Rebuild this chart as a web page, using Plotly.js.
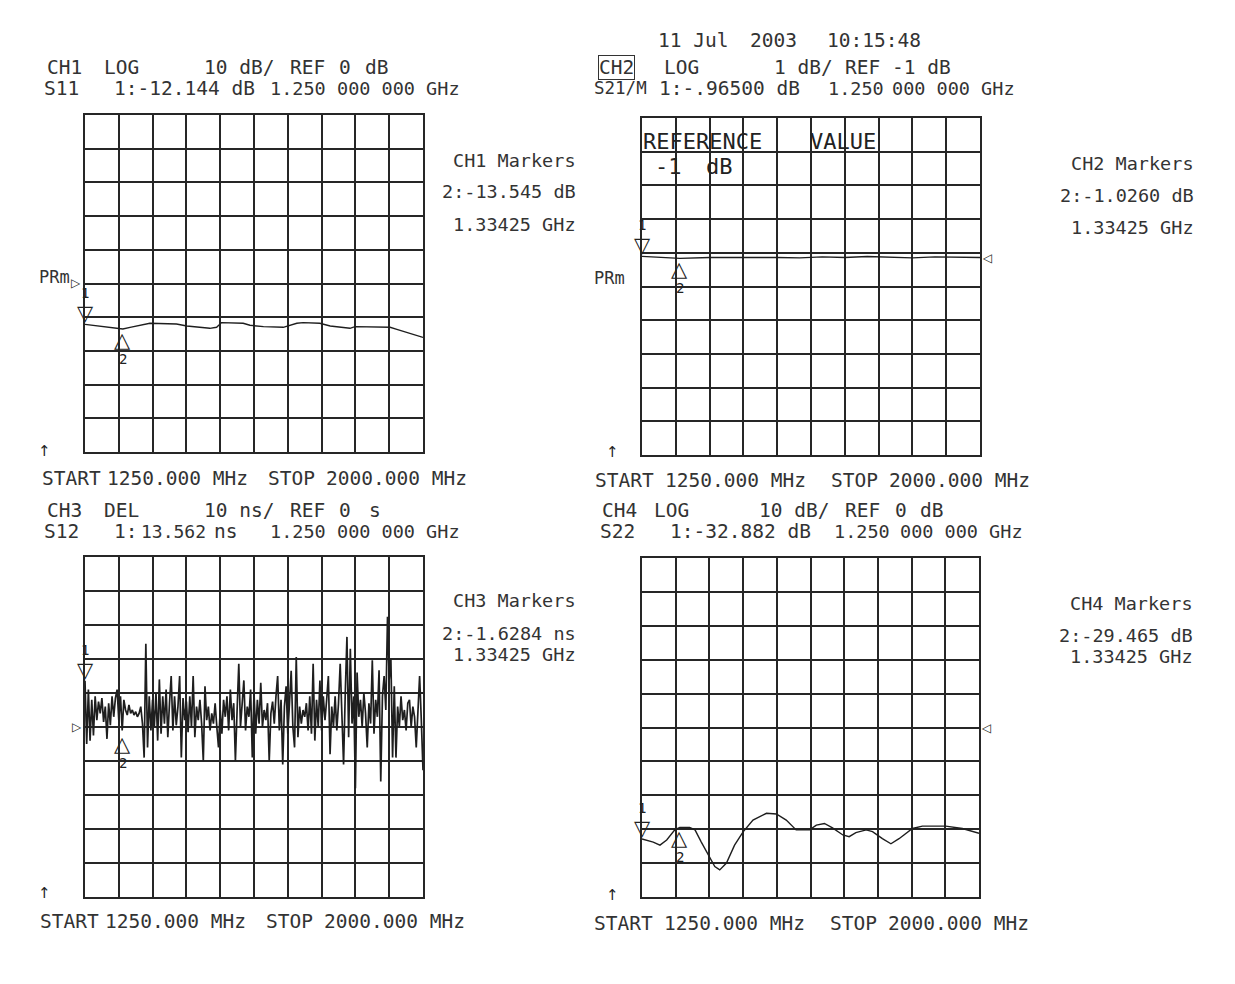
<!DOCTYPE html>
<html><head><meta charset="utf-8">
<script src="https://cdn.plot.ly/plotly-3.0.1.min.js"></script>
<style>html,body{margin:0;padding:0;background:#fff;}#chart{width:1235px;height:984px;}</style>
</head><body><div id="chart"></div>
<script>
// ---------------- data ----------------
const START_MHZ = 1250, STOP_MHZ = 2000;

const ch1Freq = [1250,1305,1334,1350,1372,1394,1453,1476,1527,1542,1553,1601,1616,1646,1690,1720,1734,1771,1794,1838,1849,1927,1942,2000];
const ch1S11  = [-12.14,-13.0,-13.5,-13.0,-12.4,-11.8,-12.0,-12.6,-13.3,-13.0,-11.6,-11.8,-12.4,-12.8,-13.0,-11.8,-11.6,-11.8,-12.6,-13.3,-12.8,-13.0,-13.6,-16.0];

const ch2Freq = [1250,1290,1334,1400,1450,1500,1550,1600,1650,1700,1750,1800,1850,1900,1950,2000];
const ch2S21  = [-0.965,-0.99,-1.026,-1.0,-0.99,-1.0,-1.0,-1.01,-0.98,-1.0,-0.97,-1.0,-1.01,-0.98,-0.99,-1.0];

const ch3Delay = [
 13.6,-5.0,11.0,-4.0,8.0,-2.5,9.0,2.0,7.5,4.0,
 8.5,1.5,6.0,-3.5,7.0,0.5,9.0,3.0,8.5,11.0,
 2.0,9.0,-1.0,8.0,5.0,3.5,6.5,4.0,5.0,3.5,
 4.5,3.0,4.0,6.0,1.0,-9.0,24.5,-6.0,9.0,-1.0,
 8.0,0.0,10.0,-4.0,14.0,-2.0,9.0,1.0,11.0,-3.0,
 7.0,15.0,-1.0,9.0,0.5,6.0,15.0,-9.0,8.5,2.0,
 7.5,-1.5,9.0,0.0,15.0,-3.0,6.0,2.0,8.0,1.0,
 -10.0,12.0,2.0,6.0,-1.0,4.0,1.0,7.0,0.0,-6.0,
 5.0,-2.0,8.0,3.0,9.0,-1.0,11.0,2.0,7.0,-10.0,
 5.0,18.6,0.0,7.0,13.7,-1.0,6.0,3.0,11.0,-9.0,
 10.0,-2.0,8.0,1.0,13.0,0.0,5.0,2.0,7.0,-10.0,
 4.0,7.5,1.0,9.0,15.0,-1.0,8.0,-11.0,6.0,12.0,
 -2.0,7.0,16.5,0.0,-6.0,20.6,-3.0,6.0,1.0,5.0,
 3.0,7.0,-1.0,9.0,-2.0,18.6,-4.0,8.0,0.0,13.7,
 -1.0,9.0,2.0,8.0,15.0,-8.0,6.0,0.0,9.0,-1.0,
 7.0,18.6,2.0,-11.0,10.0,26.5,-3.0,23.0,1.0,9.0,
 -18.0,16.0,3.0,8.0,0.0,10.0,4.0,-6.0,7.0,1.0,
 19.6,-2.0,8.0,3.0,16.7,-16.0,9.0,15.0,5.0,32.4,
 14.0,20.0,-9.0,12.0,-9.0,6.0,0.0,9.0,2.0,5.0,
 -1.0,7.0,8.0,0.0,6.0,3.0,-6.0,5.0,15.0,2.0,
 -12.7];

const ch4Freq = [1250,1257,1275,1290,1305,1323,1334,1356,1368,1382,1397,1412,1423,1438,1456,1475,1497,1527,1549,1571,1593,1623,1638,1656,1674,1697,1711,1726,1749,1763,1785,1804,1822,1841,1852,1874,1926,1963,1993,2000];
const ch4S22  = [-32.9,-33.2,-33.8,-34.7,-33.2,-30.2,-29.5,-29.5,-30.2,-33.8,-37.6,-41.0,-42.0,-40.0,-34.7,-30.8,-27.3,-25.3,-25.5,-27.3,-30.2,-30.2,-28.8,-28.3,-29.6,-31.7,-32.2,-31.0,-30.2,-30.7,-32.8,-34.3,-32.8,-30.8,-29.8,-29.1,-29.1,-29.8,-31.0,-31.2];

const markerFreq = [1250, 1334.25];
const ch1Markers = [-12.144, -13.545];
const ch2Markers = [-0.965, -1.026];
const ch3Markers = [13.562, -1.6284];
const ch4Markers = [-32.882, -29.465];
const refValues  = [0, -1, 0, 0];

// ---------------- layout helpers ----------------
const W = 1235, H = 984;
const FONT = 'DejaVu Sans Mono';
const TXT = '#333';
const INK = '#262626';
const ch3Freq = ch3Delay.map((_, i) => START_MHZ + i * (STOP_MHZ - START_MHZ) / (ch3Delay.length - 1));

const panels = [
  {box:[85,115,423,452],  range:[-50,50],     tick0:0,    dtick:10, fx:ch1Freq, fy:ch1S11,  mk:ch1Markers},
  {box:[642,118,980,455], range:[-6.86,3.14], tick0:0.14, dtick:1,  fx:ch2Freq, fy:ch2S21,  mk:ch2Markers},
  {box:[85,557,423,897],  range:[-50,50],     tick0:0,    dtick:10, fx:ch3Freq, fy:ch3Delay,mk:ch3Markers},
  {box:[642,558,979,897], range:[-50,50],     tick0:0,    dtick:10, fx:ch4Freq, fy:ch4S22,  mk:ch4Markers}
];

const layout = {
  width: W, height: H, margin:{l:0,r:0,t:0,b:0},
  paper_bgcolor:'#fff', plot_bgcolor:'#fff', showlegend:false,
  annotations: [], shapes: []
};
const data = [];

panels.forEach((p, k) => {
  const n = k === 0 ? '' : String(k + 1);
  const [x0, y0, x1, y1] = p.box;
  layout['xaxis' + n] = {
    domain:[x0 / W, x1 / W], range:[START_MHZ, STOP_MHZ], tick0:START_MHZ, dtick:75,
    showgrid:true, gridcolor:INK, gridwidth:2, zeroline:false, showticklabels:false, ticks:'',
    showline:true, mirror:true, linecolor:INK, linewidth:2, anchor:'y' + n, fixedrange:true
  };
  layout['yaxis' + n] = {
    domain:[1 - y1 / H, 1 - y0 / H], range:p.range, tick0:p.tick0, dtick:p.dtick,
    showgrid:true, gridcolor:INK, gridwidth:2, zeroline:false, showticklabels:false, ticks:'',
    showline:true, mirror:true, linecolor:INK, linewidth:2, anchor:'x' + n, fixedrange:true
  };
  data.push({
    type:'scatter', mode:'lines', x:p.fx, y:p.fy, xaxis:'x' + n, yaxis:'y' + n,
    line:{color:'#1e1e1e', width:k === 2 ? 1.7 : 1.4}, hoverinfo:'skip'
  });
  // marker 1 (down triangle above trace) and marker 2 (up triangle below trace)
  const ax = {xref:'x' + n, yref:'y' + n, showarrow:false};
  layout.annotations.push(Object.assign({}, ax, {x:markerFreq[0], y:p.mk[0], text:'▽', yanchor:'bottom', xanchor:'center', yshift:-3, font:{family:'DejaVu Sans', size:21, color:'#222'}}));
  layout.annotations.push(Object.assign({}, ax, {x:markerFreq[0], y:p.mk[0], text:'1', yanchor:'bottom', xanchor:'center', yshift:21, font:{family:FONT, size:14, color:'#222'}}));
  layout.annotations.push(Object.assign({}, ax, {x:markerFreq[1], y:p.mk[1], text:'△', yanchor:'top', xanchor:'center', yshift:3, font:{family:'DejaVu Sans', size:21, color:'#222'}}));
  layout.annotations.push(Object.assign({}, ax, {x:markerFreq[1], y:p.mk[1], text:'2', yanchor:'top', xanchor:'center', yshift:-20, font:{family:FONT, size:14, color:'#222'}}));
});

// reference-position pointers
const refPtr = (k, xpx, glyph) => {
  const n = k === 0 ? '' : String(k + 1);
  layout.annotations.push({xref:'paper', yref:'y' + n, x:xpx / W, y:refValues[k], text:glyph, showarrow:false,
    xanchor:'center', yanchor:'middle', font:{family:'DejaVu Sans', size:12, color:'#222'}});
};
refPtr(0, 76, '▷');
refPtr(1, 987, '◁');
refPtr(2, 77, '▷');
refPtr(3, 986, '◁');

// text annotations (pixel positions)
const T = (text, x, y, o) => layout.annotations.push(Object.assign({
  text, xref:'paper', yref:'paper', x:x / W, y:1 - y / H, xanchor:'left', yanchor:'middle',
  showarrow:false, font:{family:FONT, size:19.5, color:TXT}
}, o || {}));
const S = (sz) => ({font:{family:FONT, size:sz, color:TXT}});
const R = (text, x, y) => T(text, x, y, {xanchor:'right', font:{family:FONT, size:18.5, color:TXT}});

// date
T('11 Jul', 656, 40); T('2003', 748, 40); T('10:15:48', 825, 40);

// CH1 header
T('CH1', 45, 67); T('LOG', 102, 67); T('10 dB/', 202, 67); T('REF', 288, 67); T('0', 337, 67); T('dB', 363, 67);
T('S11', 42, 88); T('1:-12.144 dB', 112, 88); T('1.250', 268, 88, S(18.5)); T('000 000 GHz', 335, 88, S(18.5));
// CH2 header
T('CH2', 598, 67, {bordercolor:'#333', borderwidth:1, borderpad:0});
T('LOG', 662, 67); T('1 dB/', 772, 67); T('REF -1 dB', 843, 67);
T('S21/M', 592, 88, S(17.5)); T('1:-.96500 dB', 657, 88); T('1.250', 826, 88, S(18.5)); T('000 000 GHz', 890, 88, S(18.5));
// CH3 header
T('CH3', 45, 510); T('DEL', 102, 510); T('10 ns/', 202, 510); T('REF', 288, 510); T('0', 337, 510); T('s', 367, 510);
T('S12', 42, 531); T('1:', 112, 531); T('13.562', 139, 531, S(18)); T('ns', 212, 531); T('1.250', 268, 531, S(18.5)); T('000 000 GHz', 335, 531, S(18.5));
// CH4 header
T('CH4', 600, 510); T('LOG', 652, 510); T('10 dB/', 757, 510); T('REF', 843, 510); T('0', 893, 510); T('dB', 918, 510);
T('S22', 598, 531); T('1:-32.882 dB', 668, 531); T('1.250', 832, 531, S(18.5)); T('000 000 GHz', 898, 531, S(18.5));

// start / stop
const SS = (x, y, dx) => { T('START', x, y); T('1250.000 MHz', x + 65 + (dx||0), y); T('STOP', x + 226 + (dx||0)*2, y); T('2000.000 MHz', x + 284 + (dx||0)*2, y); };
SS(40, 478); SS(593, 480, 5); SS(38, 921); SS(592, 923, 5);

// marker read-outs
R('CH1 Markers', 578, 160); R('2:-13.545 dB', 578, 191); R('1.33425 GHz', 578, 225);
R('CH2 Markers', 1196, 163); R('2:-1.0260 dB', 1196, 195); R('1.33425 GHz', 1196, 227);
R('CH3 Markers', 578, 600); R('2:-1.6284 ns', 578, 633); R('1.33425 GHz', 578, 654);
R('CH4 Markers', 1195, 603); R('2:-29.465 dB', 1195, 635); R('1.33425 GHz', 1195, 656);

// PRm labels
T('PRm', 37, 277, S(17));
T('PRm', 592, 278, S(17));

// reference value message in CH2
const RV = {font:{family:FONT, size:22, color:'#222'}};
T('REFERENCE', 641, 141, RV); T('VALUE', 808, 141, RV); T('-1', 653, 167, RV); T('dB', 704, 167, RV);

// small up arrows
const UA = {xanchor:'center', font:{family:'DejaVu Sans', size:15, color:'#222'}};
T('↑', 45, 451, UA); T('↑', 612, 452, UA); T('↑', 45, 893, UA); T('↑', 612, 895, UA);

Plotly.newPlot('chart', data, layout, {staticPlot:true, displayModeBar:false});
</script></body></html>
